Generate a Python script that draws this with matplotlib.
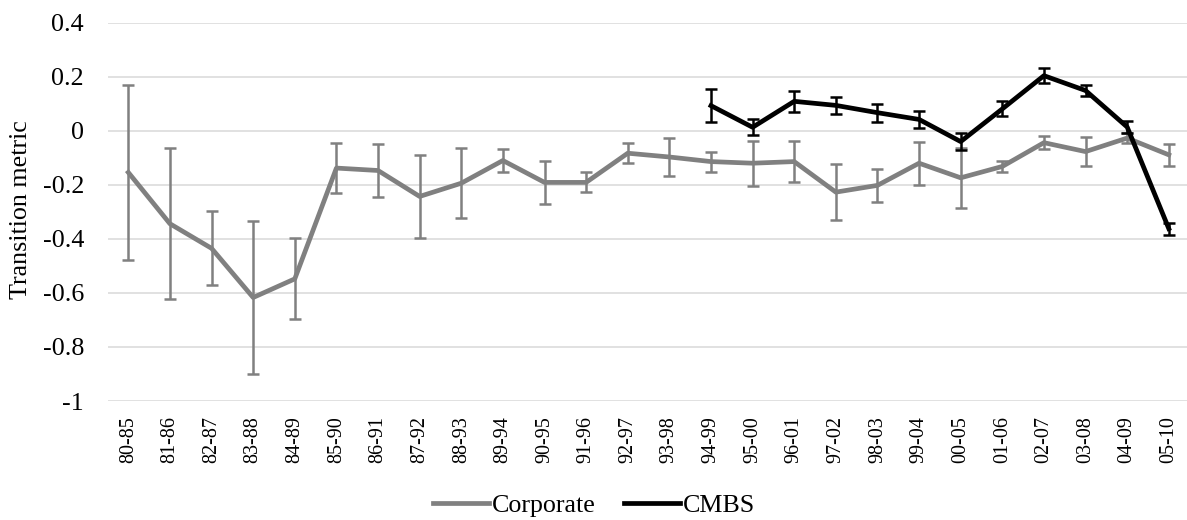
import numpy as np
import matplotlib
matplotlib.use("Agg")
import matplotlib.pyplot as plt
from matplotlib.lines import Line2D

categories = ['80-85', '81-86', '82-87', '83-88', '84-89', '85-90', '86-91', '87-92',
              '88-93', '89-94', '90-95', '91-96', '92-97', '93-98', '94-99', '95-00',
              '96-01', '97-02', '98-03', '99-04', '00-05', '01-06', '02-07', '03-08',
              '04-09', '05-10']

corporate = [-0.154, -0.344, -0.435, -0.617, -0.548, -0.138, -0.147, -0.243, -0.194,
             -0.110, -0.191, -0.191, -0.083, -0.097, -0.114, -0.120, -0.114, -0.227,
             -0.202, -0.120, -0.174, -0.132, -0.044, -0.077, -0.027, -0.089]
corporate_err = [0.324, 0.280, 0.137, 0.282, 0.150, 0.092, 0.097, 0.154, 0.129, 0.041,
                 0.079, 0.037, 0.038, 0.072, 0.037, 0.083, 0.075, 0.103, 0.062, 0.080,
                 0.111, 0.022, 0.024, 0.055, 0.019, 0.040]

cmbs_categories = ['94-99', '95-00', '96-01', '97-02', '98-03', '99-04', '00-05',
                   '01-06', '02-07', '03-08', '04-09', '05-10']
cmbs = [0.093, 0.013, 0.109, 0.094, 0.067, 0.042, -0.040, 0.081, 0.204, 0.149, 0.014, -0.362]
cmbs_err = [0.060, 0.030, 0.040, 0.032, 0.033, 0.031, 0.032, 0.028, 0.027, 0.021, 0.023, 0.022]

yticks = [0.4, 0.2, 0, -0.2, -0.4, -0.6, -0.8, -1]
ytick_labels = ['0.4', '0.2', '0', '-0.2', '-0.4', '-0.6', '-0.8', '-1']

plt.rcParams['font.family'] = ['Liberation Serif', 'DejaVu Serif']

W, H = 1187, 520
fig = plt.figure(figsize=(W / 100, H / 100), dpi=100)
left_px, right_px = 107.5, 1189.6
top_px, bottom_px = 22.7, 401.0
ax = fig.add_axes([left_px / W, (H - bottom_px) / H,
                   (right_px - left_px) / W, (bottom_px - top_px) / H])

x = np.arange(len(categories))
xc = np.array([categories.index(c) for c in cmbs_categories])

ax.errorbar(x, corporate, yerr=corporate_err, color='#808080', lw=3.4,
            elinewidth=1.8, capsize=4.5, capthick=1.8, label='Corporate', zorder=3)
ax.errorbar(xc, cmbs, yerr=cmbs_err, color='#000000', lw=3.4,
            elinewidth=1.8, capsize=4.5, capthick=1.8, label='CMBS', zorder=4)

ax.set_xlim(-0.5, len(categories) - 0.5)
ax.set_ylim(-1, 0.4)
ax.set_yticks(yticks)
ax.set_yticklabels(ytick_labels, fontsize=18.7)
ax.set_xticks(x)
ax.set_xticklabels(categories, rotation=90, fontsize=14.5)
ax.tick_params(axis='both', length=0)
ax.tick_params(axis='y', pad=17)
ax.tick_params(axis='x', pad=11)
ax.yaxis.grid(True, color='#d9d9d9', lw=1.1)
ax.set_axisbelow(True)
for s in ax.spines.values():
    s.set_visible(False)

fig.text(21.5 / W, (H - 210) / H, 'Transition metric', rotation=90,
         ha='center', va='center', fontsize=18.7)

h2 = [Line2D([], [], color='#808080', lw=3.4), Line2D([], [], color='#000000', lw=3.4)]
fig.legend(h2, ['Corporate', 'CMBS'], loc='center', bbox_to_anchor=(594 / W, (H - 505) / H),
           ncol=2, frameon=False, fontsize=18.7, handlelength=2.15, handletextpad=0.1,
           columnspacing=1.1, borderpad=0, borderaxespad=0)

fig.savefig('out.png', dpi=100)
